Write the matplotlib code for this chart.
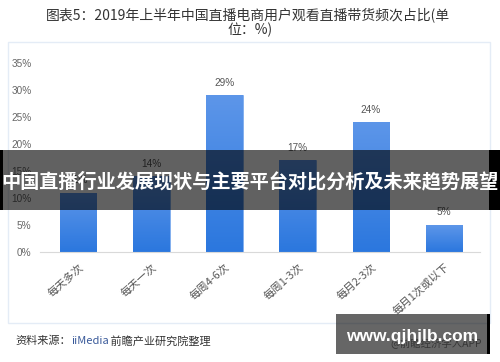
import matplotlib
matplotlib.use("Agg")
import numpy as np
import matplotlib.pyplot as plt
from matplotlib.patches import Rectangle
from matplotlib.colors import LinearSegmentedColormap

plt.rcParams["font.family"] = ["Noto Sans CJK SC", "DejaVu Sans"]

CATEGORIES = ["每天多次", "每天一次", "每周4-6次", "每周1-3次", "每月2-3次", "每月1次或以下"]
SHARES = [11, 14, 29, 17, 24, 5]
Y_TICKS = [0, 5, 10, 15, 20, 25, 30, 35]

TITLE_1 = "图表5：2019年上半年中国直播电商用户观看直播带货频次占比(单"
TITLE_2 = "位：%)"
SOURCE_PARTS = [("资料来源：", "#333333"), ("iiMedia", "#3a5a9a"), (" 前瞻产业研究院整理", "#333333")]
BANNER = "中国直播行业发展现状与主要平台对比分析及未来趋势展望"
SITE = "www.qjhjlb.com"
APP_TAG = "@前瞻经济学人APP"

LATIN = ["Liberation Sans", "DejaVu Sans"]

W, H = 500, 362
fig = plt.figure(figsize=(W / 100, H / 100), dpi=100)
fig.patch.set_facecolor("white")


def fx(px):
    return px / W


def fy(py):
    return 1 - py / H


# chart frame
fig.add_artist(Rectangle((fx(8), fy(323)), fx(482), fy(42) - fy(323), transform=fig.transFigure,
                         fill=False, edgecolor="#e4ecf6", linewidth=1.0))

ax = fig.add_axes([fx(40), fy(252), fx(440), fy(63) - fy(252)])
x = list(range(len(CATEGORIES)))
bars = ax.bar(x, SHARES, width=0.5, color="#3d85e4", edgecolor="#7aaaee", linewidth=0.5, zorder=2)

# vertical gradient inside the bars
grad_cmap = LinearSegmentedColormap.from_list("bar", ["#2b77de", "#5d96e9"])
grad = np.linspace(0, 1, 256).reshape(-1, 1)
for b in bars:
    im = ax.imshow(grad, cmap=grad_cmap, origin="lower", aspect="auto", zorder=2.5,
                   extent=[b.get_x(), b.get_x() + b.get_width(), 0, b.get_height()])
    im.set_clip_path(b)

for xi, v in zip(x, SHARES):
    ax.text(xi, v + 1.4, f"{v}%", ha="center", va="bottom", fontsize=7.2, color="#555555", family=LATIN)

ax.set_xlim(-0.52, 5.49)
ax.set_ylim(0, 35)
ax.set_yticks(Y_TICKS)
ax.set_yticklabels([f"{t}%" for t in Y_TICKS], fontsize=7.2, color="#666666", family=LATIN)
ax.set_xticks(x)
ax.set_xticklabels(CATEGORIES, rotation=42, ha="right", va="top", rotation_mode="anchor",
                   fontsize=7.8, color="#555555")
ax.tick_params(axis="both", length=0)
ax.tick_params(axis="y", pad=6)
ax.tick_params(axis="x", pad=7)
for side in ["top", "right", "left"]:
    ax.spines[side].set_visible(False)
ax.spines["bottom"].set_color("#d9d9d9")
ax.spines["bottom"].set_linewidth(0.8)

# title
fig.text(fx(248), fy(16), TITLE_1, ha="center", va="center", fontsize=10, color="#333333")
fig.text(fx(250), fy(30), TITLE_2, ha="center", va="center", fontsize=10, color="#333333")

# source line, coloured in parts
renderer = fig.canvas.get_renderer()
x0 = fx(15)
for txt, col in SOURCE_PARTS:
    t = fig.text(x0, fy(341), txt, ha="left", va="center", fontsize=8, color=col)
    bb = t.get_window_extent(renderer=renderer)
    x0 = bb.x1 / fig.bbox.width

# banner overlay
fig.add_artist(Rectangle((0, fy(210)), 1, fy(150) - fy(210), transform=fig.transFigure,
                         facecolor="black", alpha=0.62, edgecolor="none", zorder=10))
fig.add_artist(Rectangle((0, fy(210)), fx(3), fy(150) - fy(210), transform=fig.transFigure,
                         facecolor="black", edgecolor="none", zorder=11))
fig.add_artist(Rectangle((fx(489), fy(210)), fx(11), fy(150) - fy(210), transform=fig.transFigure,
                         facecolor="black", edgecolor="none", zorder=11))
fig.text(fx(250), fy(182), BANNER, ha="center", va="center", fontsize=13.8, color="white",
         fontweight="bold", zorder=12)

# site badge
fig.text(fx(436), fy(343), APP_TAG, ha="center", va="center", fontsize=7.5, color="#888888")
fig.add_artist(Rectangle((fx(336), fy(354)), fx(151), fy(314) - fy(354), transform=fig.transFigure,
                         facecolor="black", alpha=0.6, edgecolor="none", zorder=10))
fig.add_artist(Rectangle((fx(487), fy(354)), fx(3), fy(314) - fy(354), transform=fig.transFigure,
                         facecolor="black", edgecolor="none", zorder=11))
fig.text(fx(412), fy(336), SITE, ha="center", va="center", fontsize=12.5, color="white",
         fontweight="bold", family=LATIN, zorder=12)

fig.savefig("out.png", dpi=100)
